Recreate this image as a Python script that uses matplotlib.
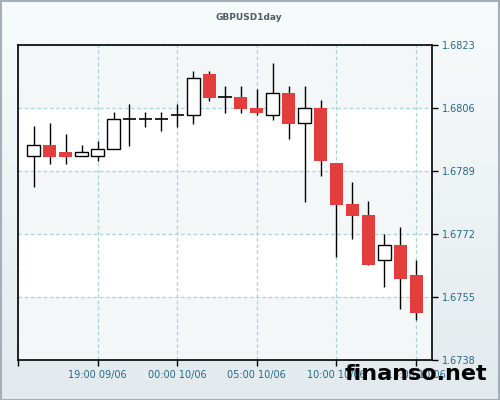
import matplotlib
matplotlib.use("Agg")
import matplotlib.pyplot as plt
import numpy as np
from matplotlib.patches import Rectangle

# hourly GBPUSD candles, 15:00 09/06 -> 15:00 10/06
opens  = [1.67930, 1.67960, 1.67941, 1.67930, 1.67930, 1.67949, 1.68030, 1.68030, 1.68030,
          1.68040, 1.68040, 1.68152, 1.68089, 1.68090, 1.68060, 1.68040, 1.68100, 1.68019,
          1.68060, 1.67912, 1.67801, 1.67772, 1.67649, 1.67690, 1.67609]
highs  = [1.68011, 1.68020, 1.67990, 1.67960, 1.67971, 1.68048, 1.68071, 1.68048, 1.68048,
          1.68070, 1.68160, 1.68160, 1.68119, 1.68119, 1.68111, 1.68181, 1.68119, 1.68119,
          1.68081, 1.67912, 1.67860, 1.67809, 1.67721, 1.67739, 1.67649]
lows   = [1.67848, 1.67910, 1.67910, 1.67930, 1.67918, 1.67949, 1.67958, 1.68010, 1.67999,
          1.68010, 1.68018, 1.68080, 1.68047, 1.68047, 1.68040, 1.68028, 1.67977, 1.67807,
          1.67877, 1.67659, 1.67707, 1.67637, 1.67578, 1.67518, 1.67489]
closes = [1.67959, 1.67929, 1.67929, 1.67940, 1.67949, 1.68030, 1.68030, 1.68030, 1.68030,
          1.68040, 1.68140, 1.68088, 1.68089, 1.68058, 1.68047, 1.68100, 1.68018, 1.68059,
          1.67918, 1.67799, 1.67769, 1.67637, 1.67690, 1.67599, 1.67508]

price_ticks = [1.6738, 1.6755, 1.6772, 1.6789, 1.6806, 1.6823]
time_pos = [-1, 4, 9, 14, 19, 24]
time_labels = ["", "19:00 09/06", "00:00 10/06", "05:00 10/06", "10:00 10/06", "15:00 10/06"]

red = "#e33d3d"
label_col = "#22698a"
grid_col = "#a9d3dc"

fig = plt.figure(figsize=(5, 4), dpi=100)

# soft gradient behind everything
bg = fig.add_axes([0, 0, 1, 1], zorder=-5)
grad = np.linspace(0, 1, 256).reshape(-1, 1)
bg.imshow(grad, aspect="auto", cmap=matplotlib.colors.LinearSegmentedColormap.from_list(
    "bg", ["#f8fbfc", "#e3eaed"]), extent=[0, 1, 0, 1], origin="upper")
bg.axis("off")
fig.patches.append(Rectangle((0.001, 0.001), 0.997, 0.996, transform=fig.transFigure,
                             fill=False, edgecolor="#a3b0b9", lw=1.5))

ax = fig.add_axes([0.036, 0.1, 0.828, 0.7875])
ax.set_facecolor("white")
ax.set_xlim(-1, 25)
ax.set_ylim(price_ticks[0], price_ticks[-1])

# alternating bands
for i in range(0, len(price_ticks) - 1, 2):
    ax.axhspan(price_ticks[i], price_ticks[i + 1], color="#f3f7f8", lw=0, zorder=0)

ax.set_yticks(price_ticks)
ax.set_xticks(time_pos)
ax.set_xticklabels(time_labels)
ax.yaxis.tick_right()
ax.tick_params(axis="both", colors="black", labelcolor=label_col, labelsize=7, length=4, width=1, pad=3)
ax.grid(True, color=grid_col, linestyle=(0, (3, 2)), lw=0.9, zorder=1)
for s in ax.spines.values():
    s.set_color("black")
    s.set_linewidth(1.2)

x = np.arange(len(opens))
w = 0.82
for i in x:
    o, h, l, c = opens[i], highs[i], lows[i], closes[i]
    ax.vlines(i, l, h, color="black", lw=1.0, zorder=3)
    if abs(c - o) < 0.00002:
        ax.hlines(o, i - w / 2, i + w / 2, color="black", lw=1.2, zorder=4)
    elif c > o:
        ax.bar(i, c - o, bottom=o, width=w, color="white", edgecolor="black", lw=1.0, zorder=4)
    else:
        ax.bar(i, o - c, bottom=c, width=w, color=red, lw=0, zorder=4)

fig.text(0.498, 0.955, "GBPUSD1day", ha="center", va="center", fontsize=6.5,
         fontweight="bold", color="#4d5b66")
fig.text(0.69, 0.05, "finanso.net", ha="left", va="baseline", fontsize=16,
         fontweight="bold", color="black")

plt.savefig("out.png", dpi=100)
